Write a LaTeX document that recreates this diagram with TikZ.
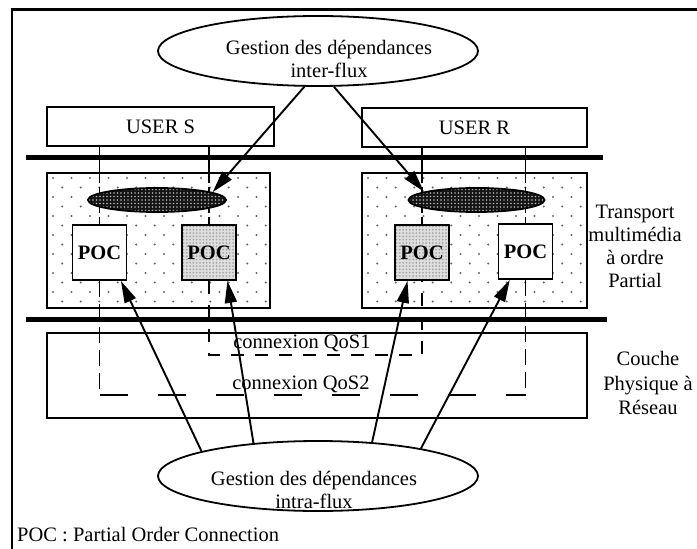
\documentclass[tikz,border=0pt]{standalone}
\usepackage{fontspec}
\setmainfont{Liberation Serif}
\usetikzlibrary{shapes.geometric,arrows.meta}
\newcommand\figfont{\fontsize{20.5bp}{23bp}\selectfont}
\begin{document}
\begin{tikzpicture}[x=1bp,y=-1bp,
  txt/.style={font=\figfont, inner sep=0pt, align=center},
  box/.style={draw, line width=1.8bp, rectangle, inner sep=0pt, font=\figfont},
  pocbox/.style={box, minimum width=54bp, minimum height=55bp, font=\figfont\bfseries},
  bigell/.style={draw, line width=1.8bp, ellipse, inner sep=0pt, minimum width=320bp, minimum height=70bp},
  darkell/.style={draw, line width=1.8bp, ellipse, inner sep=0pt, minimum width=138bp, minimum height=24bp},
  thin/.style={line width=1.5bp},
  inbox/.style={line width=1.5bp, dash pattern=on 11bp off 4bp},
  qosA/.style={line width=1.6bp, dash pattern=on 13bp off 11bp},
  qosBv/.style={line width=1.6bp, dash pattern=on 16bp off 7bp},
  qosBh/.style={line width=1.6bp, dash pattern=on 28bp off 30bp},
  thick/.style={line width=5bp},
  arr/.style={line width=1.9bp, -{Triangle[length=22bp,width=12bp]}},
  tdot/.style={fill=black!60},
]
\useasboundingbox (0,0) rectangle (697,549);
% outer frame
\draw[line width=2.2bp] (12,549) -- (12,9.5) -- (697,9.5);

% transport boxes with dotted background
\begin{scope}
\clip (47,173) rectangle (270,308);
\foreach \r in {0,...,14} \foreach \c in {0,...,12}
  \fill[tdot] ({53+\c*18.5+mod(\r,2)*9.25},{178+\r*9.5}) circle[radius=1.2];
\end{scope}
\begin{scope}
\clip (362,173) rectangle (587,308);
\foreach \r in {0,...,14} \foreach \c in {0,...,12}
  \fill[tdot] ({368+\c*18.5+mod(\r,2)*9.25},{178+\r*9.5}) circle[radius=1.2];
\end{scope}
\node[box, minimum width=223bp, minimum height=135bp] (tS) at (158.5,240.5) {};
\node[box, minimum width=225bp, minimum height=135bp] (tR) at (474.5,240.5) {};

% grey POC backgrounds
\begin{scope}
\clip (182,225) rectangle (236,280);
\fill[gray!25] (182,225) rectangle (236,280);
\foreach \i in {0,...,16} \foreach \j in {0,...,16}
  \fill[gray!70] ({183.5+\i*3.3},{226.5+\j*3.3}) circle[radius=1.0];
\end{scope}
\begin{scope}
\clip (395,225) rectangle (449,280);
\fill[gray!25] (395,225) rectangle (449,280);
\foreach \i in {0,...,16} \foreach \j in {0,...,16}
  \fill[gray!70] ({396.5+\i*3.3},{226.5+\j*3.3}) circle[radius=1.0];
\end{scope}

% POC boxes
\node[pocbox, fill=white] (pSL) at (99.5,252.5) {POC};
\node[pocbox] (pSR) at (209,252.5) {POC};
\node[pocbox] (pRL) at (422,252.5) {POC};
\node[pocbox, fill=white] (pRR) at (525.5,251.5) {POC};

% user boxes
\node[box, minimum width=227bp, minimum height=39bp] (userS) at (160.5,126.5) {USER S};
\node[box, minimum width=225bp, minimum height=39bp] (userR) at (474.5,127.5) {USER R};

% vertical links
\foreach \p/\u/\t in {pSL/userS/tS, pSR/userS/tS, pRL/userR/tR, pRR/userR/tR} {
  \draw[thin] (\p |- \u.south) -- (\p |- \t.north);
  \draw[inbox] (\p |- \t.north) -- (\p.north);
}

% dark ellipses
\begin{scope}
\clip (157,200) ellipse [x radius=69, y radius=12];
\fill[black!92] (88,188) rectangle (226,212);
\foreach \i in {0,...,39} \foreach \j in {0,...,7}
  \fill[white!70!black] ({89.5+\i*3.5},{189.5+\j*3.5}) circle[radius=0.9];
\end{scope}
\node[darkell] (dS) at (157,200) {};
\begin{scope}
\clip (476.5,200) ellipse [x radius=68, y radius=12];
\fill[black!92] (408,188) rectangle (545,212);
\foreach \i in {0,...,39} \foreach \j in {0,...,7}
  \fill[white!70!black] ({409.5+\i*3.5},{189.5+\j*3.5}) circle[radius=0.9];
\end{scope}
\node[darkell, minimum width=136bp] (dR) at (476.5,200) {};

% physical layer box
\node[box, minimum width=540bp, minimum height=85bp] (couche) at (317,375.5) {};

% QoS connections
\coordinate (q1) at (0,355);
\coordinate (q2) at (0,395);
\draw[qosA] (pSR.south) -- (pSR |- q1) -- (pRL |- q1) -- (pRL.south);
\draw[qosBv] (pSL.south) -- (pSL |- q2);
\draw[qosBh] (pSL |- q2) -- (pRR |- q2);
\draw[qosBv] (pRR.south) -- (pRR |- q2);
\node[txt] (c1) at (302,343) {connexion QoS1};
\node[txt] (c2) at (301,384) {connexion QoS2};

% thick layer lines
\draw[thick] (26,158) -- (603,158);
\draw[thick] (26,319) -- (607,319);

% big ellipses
\node[bigell] (inter) at (318,51) {};
\node[txt] (interT) at (329,59) {Gestion des dépendances\\inter-flux};
\node[bigell] (intra) at (318,476) {};
\node[txt] (intraT) at (314,490) {Gestion des dépendances\\intra-flux};

% side labels
\node[txt] (trT) at (635,246) {Transport\\multimédia\\à ordre\\Partial};
\node[txt, font=\fontsize{20.5bp}{24.5bp}\selectfont] (phT) at (648,383) {Couche\\Physique à\\Réseau};
\node[txt, anchor=base west] (legend) at (17,541) {POC : Partial Order Connection};

% arrows
\draw[arr] (inter.249) -- (dS.8);
\draw[arr] (inter.294) -- (dR.171);
\draw[arr] (intra.168) -- (pSL.-53);
\draw[arr] (intra.153) -- (pSR.-57);
\draw[arr] (intra.32) -- (pRL.-117);
\draw[arr] (intra.15) -- (pRR.-119);
\end{tikzpicture}
\end{document}
